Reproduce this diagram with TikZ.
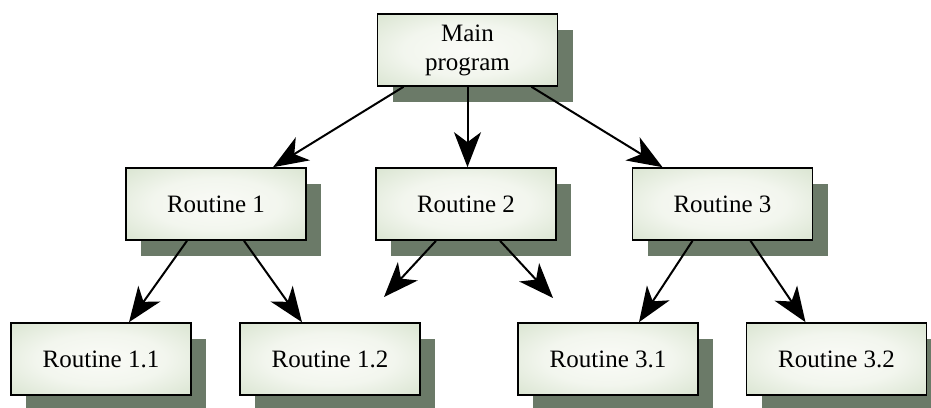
\documentclass[tikz,border=0pt]{standalone}
\usepackage{fontspec}
\setmainfont{Liberation Serif}
\usetikzlibrary{shadows,arrows.meta}
\definecolor{boxedge}{RGB}{198,215,186}
\definecolor{boxmid}{RGB}{250,251,247}
\definecolor{shadowgreen}{RGB}{107,122,104}
\pgfdeclareradialshading{boxshade}{\pgfpoint{0bp}{0bp}}{color(0bp)=(boxmid); color(18bp)=(boxmid!85!boxedge); color(50bp)=(boxedge); color(75bp)=(boxedge)}
\tikzset{
  routinebox/.style={draw=black, line width=1.6pt, shading=boxshade,
    minimum width=180pt, minimum height=72pt, align=center, font=\fontsize{25}{29}\selectfont,
    drop shadow={shadow xshift=15pt, shadow yshift=-16pt, fill=shadowgreen, opacity=1}},
  link/.style={line width=2pt, -{Stealth[length=35pt,width=27pt,inset=10pt]}}
}
\begin{document}
\begin{tikzpicture}[x=1pt,y=-1pt]
\useasboundingbox (0,0) rectangle (931,407);
\begin{scope}
\clip (0,0) rectangle (931,407);
\node[routinebox] (main) at (467.5,50) {Main\\program};
\node[routinebox] (r1) at (216,204) {Routine 1};
\node[routinebox] (r2) at (466,204) {Routine 2};
\node[routinebox] (r3) at (722.5,204) {Routine 3};
\node[routinebox] (r11) at (101,359) {Routine 1.1};
\node[routinebox] (r12) at (330,359) {Routine 1.2};
\node[routinebox] (r31) at (608,359) {Routine 3.1};
\node[routinebox] (r32) at (836.5,359) {Routine 3.2};
\end{scope}
\coordinate (d1) at (384,297);
\coordinate (d2) at (553,298);
\draw[link] ([xshift=-64pt]main.south) -- ([xshift=57pt]r1.north);
\draw[link] (main.south) -- (main.south |- r2.north);
\draw[link] ([xshift=64pt]main.south) -- ([xshift=-60pt]r3.north);
\draw[link] ([xshift=-29pt]r1.south) -- ([xshift=28pt]r11.north);
\draw[link] ([xshift=28pt]r1.south) -- ([xshift=-28pt]r12.north);
\draw[link] ([xshift=-30pt]r2.south) -- (d1);
\draw[link] ([xshift=34pt]r2.south) -- (d2);
\draw[link] ([xshift=-30pt]r3.south) -- ([xshift=31pt]r31.north);
\draw[link] ([xshift=28pt]r3.south) -- ([xshift=-31pt]r32.north);
\end{tikzpicture}
\end{document}
